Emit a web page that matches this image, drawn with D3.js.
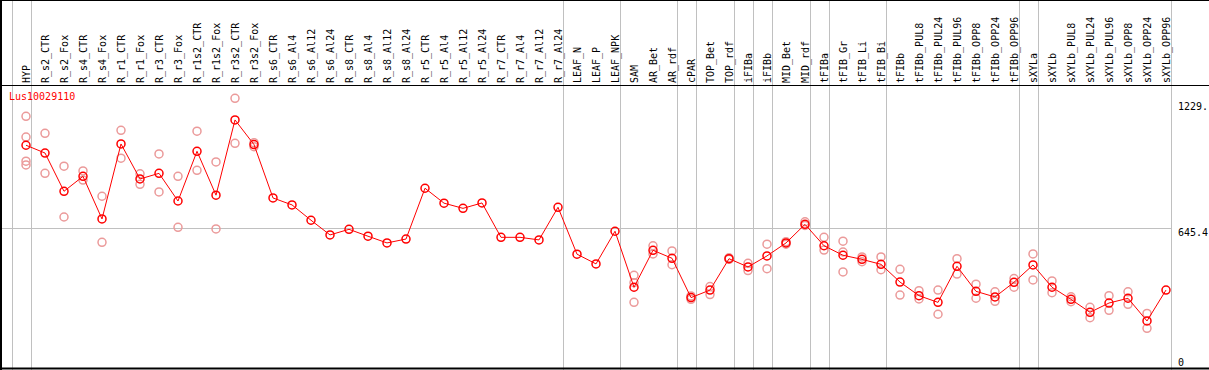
<!DOCTYPE html>
<html>
<head>
<meta charset="utf-8">
<script src="https://cdn.jsdelivr.net/npm/d3@7"></script>
<style>
  body { margin: 0; background: #fff; }
  svg { display: block; }
  text { font-family: "DejaVu Sans Mono", monospace; font-size: 10px; }
</style>
</head>
<body>
<div id="chart"></div>
<script>
// sample names (column headers)
var samples = ["HYP","R_s2_CTR","R_s2_Fox","R_s4_CTR","R_s4_Fox","R_r1_CTR","R_r1_Fox","R_r3_CTR","R_r3_Fox",
  "R_r1s2_CTR","R_r1s2_Fox","R_r3s2_CTR","R_r3s2_Fox","R_s6_CTR","R_s6_Al4","R_s6_Al12","R_s6_Al24",
  "R_s8_CTR","R_s8_Al4","R_s8_Al12","R_s8_Al24","R_r5_CTR","R_r5_Al4","R_r5_Al12","R_r5_Al24",
  "R_r7_CTR","R_r7_Al4","R_r7_Al12","R_r7_Al24","LEAF_N","LEAF_P","LEAF_NPK","SAM","AR_Bet","AR_rdf",
  "cPAR","TOP_Bet","TOP_rdf","iFIBa","iFIBb","MID_Bet","MID_rdf","tFIBa","tFIB_Gr","tFIB_Li","tFIB_Bi",
  "tFIBb","tFIBb_PUL8","tFIBb_PUL24","tFIBb_PUL96","tFIBb_OPP8","tFIBb_OPP24","tFIBb_OPP96",
  "sXYLa","sXYLb","sXYLb_PUL8","sXYLb_PUL24","sXYLb_PUL96","sXYLb_OPP8","sXYLb_OPP24","sXYLb_OPP96"];

// last sample of each tissue group (gray separators)
var groupEnds = ["HYP","R_r7_Al24","LEAF_NPK","AR_rdf","cPAR","TOP_rdf","iFIBa","iFIBb","MID_rdf",
  "tFIBa","tFIB_Bi","tFIBb_OPP96","sXYLa","sXYLb_OPP96"];

// mean expression per sample
var means = [1026,990,813,882,685,1032,870,896,768,998,795,1143,1029,782,750,679,611,637,605,574,592,
  827,758,734,759,600,600,588,739,522,477,628,369,540,503,321,356,501,463,514,574,660,561,517,498,475,
  393,330,299,466,350,324,392,472,369,313,253,296,318,213,356];

// replicate values per sample
var replicates = [
  [1160,1064,952,935],[1081,896],[929,694],[907,865],[790,577],[1095,966],[894,845],[986,810],
  [882,646],[1091,910],[949,639],[1243,1035],[1038,1019],[],[],[],[],[],[],[],[],[],[],[],[],
  [],[],[],[],[],[],[],[424,390,299],[561,523],[537,473],[329,313],[372,335],[505,498],[480,446],
  [568,455],[580,568],[672,655],[600,541],[582,532,440],[509,487],[509,450],[452,333],[353,315],
  [356,244],[501,430],[383,318],[348,304],[409,369],[523,403],[398,344],[325,302],[276,228],
  [330,262],[348,290],[248,179],[]
];

var geneName = "Lus10029110";
var yMax = 1290.8;
var tickValues = [1229.7, 645.4, 0];
var tickLabels = ["1229.", "645.4", "0"];

var W = 1209, H = 370;
var svg = d3.select("#chart").append("svg")
    .attr("width", W)
    .attr("height", H);

var x = d3.scalePoint()
    .domain(samples)
    .range([26, 1166]);

var y = d3.scaleLinear()
    .domain([0, yMax])
    .range([367, 88]);

var step = x.step();

// gray group separators
var sepX = [x(samples[0]) - step + 4.5].concat(groupEnds.map(function(s) { return x(s) + 4.5; }));
svg.selectAll(".sep")
    .data(sepX)
  .enter().append("line")
    .attr("x1", function(d) { return Math.round(d) + 0.5; })
    .attr("x2", function(d) { return Math.round(d) + 0.5; })
    .attr("y1", 0)
    .attr("y2", H)
    .attr("stroke", "#c0c0c0");

// middle grid line
svg.append("line")
    .attr("x1", 0)
    .attr("x2", Math.round(x(samples[samples.length - 1]) + 4.5))
    .attr("y1", Math.round(y(645.4)) + 0.5)
    .attr("y2", Math.round(y(645.4)) + 0.5)
    .attr("stroke", "#c0c0c0");

// frame
svg.append("line").attr("x1", 0).attr("x2", W).attr("y1", 0.5).attr("y2", 0.5).attr("stroke", "#000");
svg.append("line").attr("x1", 0).attr("x2", W).attr("y1", 85.5).attr("y2", 85.5).attr("stroke", "#000");
svg.append("line").attr("x1", 0).attr("x2", W).attr("y1", 368.5).attr("y2", 368.5).attr("stroke", "#000").attr("stroke-width", 2);
svg.append("line").attr("x1", 1).attr("x2", 1).attr("y1", 0).attr("y2", H).attr("stroke", "#000").attr("stroke-width", 2);

// column headers
svg.selectAll(".hdr")
    .data(samples)
  .enter().append("text")
    .attr("transform", function(d) { return "translate(" + (x(d) + 4) + ",83) rotate(-90)"; })
    .attr("fill", "#000")
    .text(function(d) { return d; });

// value labels on the right
svg.selectAll(".ylab")
    .data(tickValues)
  .enter().append("text")
    .attr("x", 1178)
    .attr("y", function(d, i) { return i == 2 ? y(d) - 1.5 : y(d) + 8.5; })
    .attr("fill", "#000")
    .text(function(d, i) { return tickLabels[i]; });

// gene name
svg.append("text")
    .attr("x", 9)
    .attr("y", 100)
    .attr("fill", "#ff0000")
    .text(geneName);

// replicate points
var reps = [];
replicates.forEach(function(r, i) {
  r.forEach(function(v) { reps.push({key: samples[i], value: v}); });
});
svg.selectAll(".rep")
    .data(reps)
  .enter().append("circle")
    .attr("cx", function(d) { return x(d.key); })
    .attr("cy", function(d) { return y(d.value); })
    .attr("r", 4)
    .attr("fill", "none")
    .attr("stroke", "#eb9a9a")
    .attr("stroke-width", 1.5);

// mean line
var line = d3.line()
    .x(function(d, i) { return x(samples[i]); })
    .y(function(d) { return y(d); });
svg.append("path")
    .datum(means)
    .attr("d", line)
    .attr("fill", "none")
    .attr("stroke", "#ff0000")
    .attr("stroke-width", 1);

// mean points
svg.selectAll(".mean")
    .data(means)
  .enter().append("circle")
    .attr("cx", function(d, i) { return x(samples[i]); })
    .attr("cy", function(d) { return y(d); })
    .attr("r", 4)
    .attr("fill", "none")
    .attr("stroke", "#ff0000")
    .attr("stroke-width", 1.5);
</script>
</body>
</html>
